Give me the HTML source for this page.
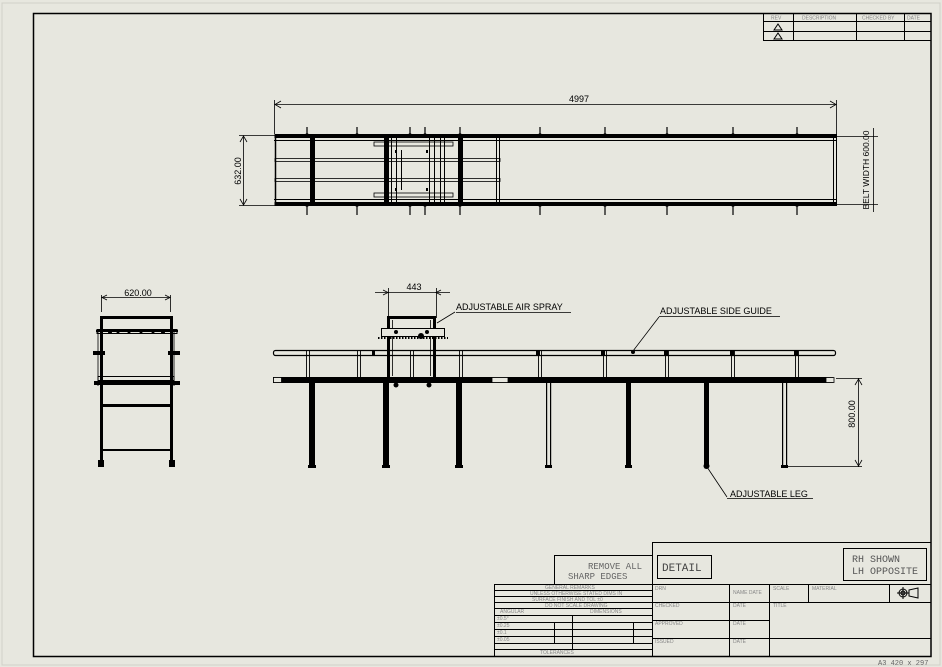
<!DOCTYPE html>
<html><head><meta charset="utf-8"><style>
html,body{margin:0;padding:0;background:#e7e7df;}
svg{display:block;font-family:"Liberation Sans",sans-serif;}
.t{font-size:5px;fill:#888;}
</style></head><body>
<svg width="942" height="667" viewBox="0 0 942 667" xmlns="http://www.w3.org/2000/svg">
<defs>
<g id="tk" fill="#000">
<rect x="-0.6" y="-8" width="1.2" height="9"/><circle cx="0" cy="0" r="1.8"/>
<rect x="-0.6" y="70" width="1.2" height="10"/><circle cx="0" cy="70" r="1.8"/>
</g>
</defs>
<rect x="0" y="0" width="942" height="667" fill="#e7e7df"/>
<rect x="2" y="3" width="938" height="662" fill="none" stroke="#d0d0c8" stroke-width="1"/>
<rect x="33.5" y="13.5" width="897.5" height="643" fill="none" stroke="#000" stroke-width="1.5"/>

<!-- revision block -->
<g stroke="#000" stroke-width="1" fill="none">
<rect x="763.5" y="13.5" width="167.5" height="27"/>
<line x1="763" y1="21.5" x2="931" y2="21.5"/>
<line x1="763" y1="31.5" x2="931" y2="31.5"/>
<line x1="793.5" y1="13" x2="793.5" y2="41"/>
<line x1="856.5" y1="13" x2="856.5" y2="41"/>
<line x1="904.5" y1="13" x2="904.5" y2="41"/>
<path d="M774 30 L778 24 L782 30 Z M774 39 L778 33 L782 39 Z"/>
</g>
<text class="t" x="771" y="19.5">REV</text><text class="t" x="802" y="19.5">DESCRIPTION</text><text class="t" x="862" y="19.5">CHECKED BY</text><text class="t" x="907" y="19.5">DATE</text>

<!-- ===== TOP VIEW ===== -->
<g stroke="#000" fill="none">
<line x1="274.5" y1="100" x2="274.5" y2="134" stroke-width="0.8"/>
<line x1="836.5" y1="100" x2="836.5" y2="134" stroke-width="0.8"/>
<line x1="274.5" y1="104.5" x2="836.5" y2="104.5" stroke-width="0.8"/>
<path d="M281 101 L275 104.5 L281 108 M830 101 L836 104.5 L830 108" stroke-width="0.8"/>
<line x1="239" y1="135.5" x2="276" y2="135.5" stroke-width="0.8"/>
<line x1="239" y1="205.5" x2="276" y2="205.5" stroke-width="0.8"/>
<line x1="243.5" y1="135.5" x2="243.5" y2="205.5" stroke-width="0.8"/>
<path d="M240 142 L243.5 136 L247 142 M240 199 L243.5 205 L247 199" stroke-width="0.8"/>
<line x1="836" y1="136.5" x2="878" y2="136.5" stroke-width="0.8"/>
<line x1="836" y1="204.5" x2="878" y2="204.5" stroke-width="0.8"/>
<line x1="873.5" y1="128" x2="873.5" y2="212" stroke-width="0.8"/>
<rect x="274.5" y="134" width="562" height="4" fill="#000" stroke="none"/>
<line x1="274" y1="140.5" x2="837" y2="140.5" stroke-width="1"/>
<rect x="274.5" y="202" width="562" height="4" fill="#000" stroke="none"/>
<line x1="274" y1="199.5" x2="837" y2="199.5" stroke-width="1"/>
<line x1="275.5" y1="134" x2="275.5" y2="206" stroke-width="1.5"/>
<line x1="833.5" y1="137" x2="833.5" y2="204" stroke-width="1"/>
<line x1="836.5" y1="134" x2="836.5" y2="206" stroke-width="1"/>
<line x1="496.5" y1="137" x2="496.5" y2="204" stroke-width="1"/>
<line x1="499.5" y1="137" x2="499.5" y2="204" stroke-width="1"/>
<rect x="275" y="158.5" width="225" height="3" stroke-width="0.8"/>
<rect x="275" y="178.5" width="225" height="3" stroke-width="0.8"/>
<rect x="310" y="136" width="5" height="69" fill="#000" stroke="none"/>
<rect x="384" y="136" width="5" height="69" fill="#000" stroke="none"/>
<rect x="458" y="136" width="5" height="69" fill="#000" stroke="none"/>
<rect x="374" y="142" width="79" height="4" stroke-width="0.8"/>
<rect x="374" y="193" width="79" height="4" stroke-width="0.8"/>
<line x1="391.5" y1="135" x2="391.5" y2="206" stroke-width="1"/>
<line x1="396.5" y1="135" x2="396.5" y2="206" stroke-width="1"/>
<line x1="429.5" y1="135" x2="429.5" y2="206" stroke-width="1"/>
<line x1="434.5" y1="135" x2="434.5" y2="206" stroke-width="1"/>
<line x1="440.5" y1="135" x2="440.5" y2="206" stroke-width="1"/>
<line x1="444.5" y1="135" x2="444.5" y2="206" stroke-width="1"/>
<line x1="401.5" y1="150" x2="401.5" y2="190" stroke-width="1"/>
</g>
<g fill="#000">
<use href="#tk" x="307" y="135"/><use href="#tk" x="357" y="135"/><use href="#tk" x="410" y="135"/>
<use href="#tk" x="425" y="135"/><use href="#tk" x="460" y="135"/><use href="#tk" x="540" y="135"/>
<use href="#tk" x="605" y="135"/><use href="#tk" x="667" y="135"/><use href="#tk" x="733" y="135"/>
<use href="#tk" x="797" y="135"/>
<rect x="395" y="150" width="2" height="3"/><rect x="395" y="188" width="2" height="3"/>
<rect x="426" y="150" width="2" height="3"/><rect x="426" y="188" width="2" height="3"/>
</g>
<text x="569" y="102" font-size="9" fill="#000">4997</text>
<text transform="translate(241,171) rotate(-90)" font-size="9" fill="#000" text-anchor="middle">632.00</text>
<text transform="translate(869,170) rotate(-90)" font-size="8.5" fill="#000" text-anchor="middle">BELT WIDTH 600.00</text>

<!-- ===== SIDE VIEW ===== -->
<g stroke="#000" fill="none">
<rect x="273.5" y="350.5" width="562" height="5" rx="2" stroke-width="1.2"/>
<rect x="273" y="377" width="560" height="6" fill="#000" stroke="none"/>
<rect x="273.5" y="377.5" width="8" height="5" fill="#e7e7df" stroke-width="0.8"/>
<rect x="826" y="377.5" width="8" height="5" fill="#e7e7df" stroke-width="0.8"/>
<rect x="492" y="377.5" width="16" height="5" fill="#e7e7df" stroke-width="0.8"/>
<g stroke-width="0.9">
<path d="M306.5 350 V383 M309.5 350 V383"/><path d="M357.5 350 V383 M360.5 350 V383"/>
<path d="M410.5 350 V383 M413.5 350 V383"/><path d="M459.5 350 V383 M462.5 350 V383"/>
<path d="M538.5 350 V383 M541.5 350 V383"/><path d="M603.5 350 V383 M606.5 350 V383"/>
<path d="M665.5 350 V383 M668.5 350 V383"/><path d="M731.5 350 V383 M734.5 350 V383"/>
<path d="M795.5 350 V383 M798.5 350 V383"/>
</g>
<path d="M388.5 288 V318 M436.5 288 V318" stroke-width="0.8"/>
<path d="M375 292.5 H450" stroke-width="0.8"/>
<path d="M383 290 L388 292.5 L383 295 M441 290 L436 292.5 L441 295" stroke-width="0.8"/>
<rect x="388" y="316" width="48" height="3" fill="#000" stroke="none"/>
<rect x="387" y="316" width="3" height="64" fill="#000" stroke="none"/>
<rect x="433" y="316" width="3" height="64" fill="#000" stroke="none"/>
<path d="M392.5 320 V376 M430.5 320 V376" stroke-width="0.8"/>
<rect x="381.5" y="328.5" width="63" height="8" fill="#e7e7df" stroke-width="1"/>
<path d="M378 338 H448" stroke-width="2" stroke-dasharray="1.5 1.5"/>
<path d="M836 378.5 H862 M786 466.5 H862" stroke-width="0.8"/>
<path d="M858.5 378 V467" stroke-width="0.8"/>
<path d="M855 385 L858.5 379 L862 385 M855 460 L858.5 466 L862 460" stroke-width="0.8"/>
<path d="M455 312 L437 323 M456 312.5 H571" stroke-width="0.8"/>
<path d="M659 317 L633 351 M659 316.5 H780" stroke-width="0.8"/>
<path d="M707 467 L727 497 M727 498.5 H813" stroke-width="0.8"/>
</g>
<g fill="#000">
<circle cx="396" cy="332" r="2"/><circle cx="427" cy="332" r="2"/><circle cx="421" cy="336" r="3"/>
<circle cx="396" cy="385" r="2.5"/><circle cx="429" cy="385" r="2.5"/>
<circle cx="633" cy="352" r="2"/>
<rect x="309" y="383" width="6" height="82"/><rect x="308" y="465" width="8" height="3"/>
<rect x="383" y="383" width="6" height="82"/><rect x="382" y="465" width="8" height="3"/>
<rect x="456" y="383" width="6" height="82"/><rect x="455" y="465" width="8" height="3"/>
<rect x="546" y="383" width="1.2" height="82"/><rect x="550" y="383" width="1.2" height="82"/><rect x="545" y="465" width="7" height="3"/>
<rect x="626" y="383" width="5" height="82"/><rect x="625" y="465" width="7" height="3"/>
<rect x="704" y="383" width="5" height="82"/><circle cx="706.5" cy="466" r="3"/>
<rect x="782" y="383" width="1.2" height="82"/><rect x="786" y="383" width="1.2" height="82"/><rect x="781" y="465" width="7" height="3"/>
<rect x="372" y="350" width="3" height="6"/><rect x="536" y="350" width="4" height="6"/><rect x="601" y="350" width="4" height="6"/><rect x="664" y="350" width="4" height="6"/><rect x="730" y="350" width="4" height="6"/><rect x="794" y="350" width="4" height="6"/>
</g>
<text x="414" y="290" font-size="9" fill="#000" text-anchor="middle">443</text>
<text x="456" y="310" font-size="9" fill="#000">ADJUSTABLE AIR SPRAY</text>
<text x="660" y="314" font-size="9" fill="#000">ADJUSTABLE SIDE GUIDE</text>
<text x="730" y="497" font-size="9" fill="#000">ADJUSTABLE LEG</text>
<text transform="translate(855,414) rotate(-90)" font-size="9" fill="#000" text-anchor="middle">800.00</text>

<!-- ===== END VIEW ===== -->
<g stroke="#000" fill="none">
<path d="M101.5 295 V312 M170.5 295 V312" stroke-width="0.8"/>
<path d="M101.5 297.5 H170.5" stroke-width="0.8"/>
<path d="M107 295 L102 297.5 L107 300 M165 295 L170 297.5 L165 300" stroke-width="0.8"/>
<path d="M98 332 V386 M174 332 V386" stroke-width="0.8"/>
<rect x="97" y="329.5" width="80" height="4" stroke-width="1"/>
<rect x="98" y="376.5" width="76" height="4" stroke-width="1"/>
</g>
<g fill="#000">
<rect x="100" y="316" width="3" height="148"/><rect x="170" y="316" width="3" height="148"/>
<rect x="100" y="316" width="73" height="3"/>
<rect x="96" y="330" width="82" height="2"/>
<rect x="94" y="381" width="86" height="4"/>
<rect x="100" y="404" width="73" height="3"/>
<rect x="100" y="449" width="73" height="2"/>
<rect x="98" y="460" width="6" height="7"/><rect x="169" y="460" width="6" height="7"/>
<rect x="93" y="351" width="12" height="4"/><rect x="168" y="351" width="12" height="4"/>
<circle cx="110" cy="332" r="2"/><circle cx="118" cy="332" r="1.5"/><circle cx="129" cy="332" r="1.5"/><circle cx="141" cy="332" r="1.5"/><circle cx="153" cy="332" r="1.5"/><circle cx="163" cy="332" r="2"/>
</g>
<text x="138" y="296" font-size="9" fill="#000" text-anchor="middle">620.00</text>

<!-- ===== TITLE BLOCK ===== -->
<g stroke="#000" stroke-width="1" fill="none">
<path d="M652.5 542.5 H931 M652.5 542 V656"/>
<rect x="657.5" y="555.5" width="54" height="23"/>
<rect x="843.5" y="548.5" width="83" height="32"/>
<rect x="554.5" y="555.5" width="98" height="29"/>
<path d="M494.5 584.5 H931 M494.5 584 V656"/>
<path d="M652 602.5 H931 M652 620.5 H770 M652 638.5 H931"/>
<path d="M729.5 584 V656 M769.5 584 V656 M808.5 584 V602 M889.5 584 V602"/>
<path d="M494 590.5 H652 M494 596.5 H652 M494 602.5 H652 M494 608.5 H652 M494 615.5 H652 M494 622.5 H652 M494 629.5 H652 M494 636.5 H652 M494 643.5 H652 M494 649.5 H652"/>
<path d="M572.5 615 V650 M554.5 622 V643 M633.5 622 V643"/>
<circle cx="903" cy="593" r="4"/><circle cx="903" cy="593" r="2"/>
<path d="M897 593 H909 M903 587 V599 M909 590 L918 588 V598 L909 596 Z"/>
</g>
<text x="588" y="569" font-size="9" fill="#666" font-family="Liberation Mono,monospace">REMOVE  ALL</text>
<text x="568" y="579" font-size="9" fill="#666" font-family="Liberation Mono,monospace">SHARP  EDGES</text>
<text x="662" y="571" font-size="11" fill="#444" font-family="Liberation Mono,monospace">DETAIL</text>
<text x="852" y="562" font-size="10" fill="#555" font-family="Liberation Mono,monospace">RH SHOWN</text>
<text x="852" y="574" font-size="10" fill="#555" font-family="Liberation Mono,monospace">LH OPPOSITE</text>
<text class="t" x="545" y="589">GENERAL REMARKS</text>
<text class="t" x="530" y="595">UNLESS OTHERWISE STATED DIMS IN</text>
<text class="t" x="532" y="601">SURFACE FINISH AND TOL   ±0</text>
<text class="t" x="545" y="607">DO NOT SCALE DRAWING</text>
<text class="t" x="500" y="613">ANGULAR</text><text class="t" x="590" y="613">DIMENSIONS</text>
<text class="t" x="497" y="620">±0.5°</text><text class="t" x="497" y="627">±0.25</text><text class="t" x="497" y="634">±0.1</text><text class="t" x="497" y="641">±0.05</text>
<text class="t" x="540" y="654">TOLERANCES</text>
<text class="t" x="655" y="590">DRN</text><text class="t" x="733" y="594">NAME DATE</text><text class="t" x="773" y="590">SCALE</text><text class="t" x="812" y="590">MATERIAL</text>
<text class="t" x="655" y="607">CHECKED</text><text class="t" x="733" y="607">DATE</text><text class="t" x="773" y="607">TITLE</text>
<text class="t" x="655" y="625">APPROVED</text><text class="t" x="733" y="625">DATE</text>
<text class="t" x="655" y="643">ISSUED</text><text class="t" x="733" y="643">DATE</text>
<text x="878" y="665" font-size="7" fill="#666" font-family="Liberation Mono,monospace">A3 420 x 297</text>
</svg>
</body></html>
